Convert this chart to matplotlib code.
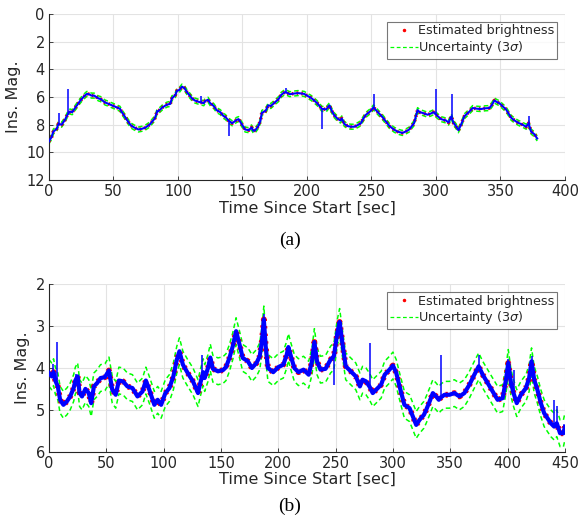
import numpy as np
import matplotlib
matplotlib.use("Agg")
import matplotlib.pyplot as plt
from matplotlib.lines import Line2D

plt.rcParams["font.family"] = ["DejaVu Sans"]
plt.rcParams["mathtext.fontset"] = "dejavusans"

# ---------------- panel (a): estimated brightness ----------------
t_a = [0, 2, 3.4, 6, 7.3, 9.8, 12.4, 14.2, 16.3, 18, 20.2, 24, 26.7, 29.3, 31, 33, 35, 38.3, 40,
       43.5, 45, 48.7, 52.6, 55, 56.5, 58, 60.4, 63, 64.2, 66, 69.4, 72, 74.6, 78, 79.8, 82, 83.7,
       86.3, 88, 91.5, 94, 95.3, 98, 99.2, 101, 103.1, 105, 107, 110.9, 113, 116.1, 118.1, 120, 121,
       123.3, 125, 127.7, 130, 132.9, 135, 136.8, 139.2, 142, 145.6, 147, 150, 152, 155, 157, 158.5,
       160, 162.3, 164, 165, 168, 170, 172, 175, 178, 180, 182.8, 184.5, 186.7, 190, 193, 196, 198,
       200, 203, 205, 208, 211.5, 214.9, 217.4, 219, 221, 223.5, 226, 227, 229, 231.5, 234, 236.7,
       239, 241.8, 243.5, 245.6, 247.5, 249.5, 251.6, 253, 256, 258.5, 261, 264, 267.4, 270.2, 274,
       276.5, 279.3, 283, 285.8, 287.5, 289.6, 293.5, 296, 298.2, 300.3, 304, 307.8, 309.8, 312,
       313.5, 315.5, 317.4, 319.5, 322, 326, 328.5, 332, 335, 338, 341.5, 343.5, 345.3, 347, 349.2,
       352, 354.4, 358.3, 361, 363.5, 367, 370, 371.8, 373.8, 376.4, 378.5]
mag_a = [9.2, 8.9, 8.5, 8.3, 7.95, 8.0, 7.65, 7.3, 7.05, 7.1, 6.8, 6.3, 6.0, 5.78, 5.8, 5.9, 5.9, 6.1, 6.15,
         6.4, 6.45, 6.6, 6.75, 6.85, 7.1, 7.3, 7.65, 8.0, 8.1, 8.2, 8.35, 8.3, 8.22, 8.0, 7.8, 7.55, 7.1,
         6.9, 6.75, 6.55, 6.5, 6.1, 5.85, 5.55, 5.5, 5.25, 5.35, 5.65, 6.1, 6.25, 6.35, 6.4, 6.45, 6.3,
         6.2, 6.45, 6.65, 6.95, 7.1, 7.35, 7.45, 7.7, 7.9, 7.65, 7.6, 8.05, 8.35, 8.4, 8.2, 8.45,
         8.4, 8.1, 7.7, 7.15, 7.0, 6.6, 6.65, 6.4, 6.15, 5.85, 5.65, 5.7, 5.8, 5.75, 5.72, 5.75, 5.78,
         5.9, 6.05, 6.2, 6.45, 6.85, 6.9, 6.6, 6.95, 7.3, 7.55, 7.7, 7.55, 7.95, 8.1, 8.15, 8.15,
         8.05, 7.9, 7.6, 7.3, 7.15, 7.0, 6.75, 6.9, 7.2, 7.45, 7.75, 8.1, 8.35, 8.5, 8.6,
         8.5, 8.35, 7.9, 6.95, 7.1, 7.15, 7.28, 7.2, 7.1, 7.3, 7.6, 7.7, 7.85, 7.4,
         7.85, 8.1, 8.4, 8.0, 7.4, 7.05, 6.8, 6.85, 6.87, 6.82, 6.8, 6.55, 6.25, 6.35, 6.45,
         6.7, 6.9, 7.5, 7.7, 7.85, 8.0, 8.15, 7.9, 8.5, 8.7, 9.0]
spike_t_a = [7.4, 14.4, 84.0, 118.2, 139.3, 183.6, 211.6, 251.7, 300.4, 312.1, 371.9]
spike_m_a = [7.15, 5.45, 6.95, 5.9, 8.8, 5.35, 8.3, 5.75, 5.4, 5.75, 7.4]
unc_a = 0.18

# ---------------- panel (b) ----------------
t_b = [0, 2.4, 4, 5.5, 7.7, 9.7, 12.6, 15.6, 18.5, 21.5, 23, 25, 26.7, 28.8, 31.8, 34.7, 36.8, 39.2,
       42, 45, 48.8, 52.3, 55.2, 58.2, 61, 64.6, 68.4, 72.8, 77.2, 81.6, 84.5, 87.5, 91.9, 94.8,
       97.8, 101.5, 105, 108.5, 111.5, 113.8, 116.8, 121, 125.6, 130, 132, 134.5, 135.8, 138.7,
       140.7, 143, 147.4, 151.8, 154.4, 157.4, 160.3, 163.2, 166.2, 169, 173.5, 177, 181, 183.8,
       185.9, 187.4, 189, 191, 195.6, 200, 204.4, 207.4, 208.8, 211, 214, 217.6, 222, 226.5,
       229.4, 231.5, 233.8, 236.8, 241.2, 245.6, 248.5, 251.5, 253.5, 255.9, 258.8, 261.8, 264.7,
       267.6, 271.2, 273.5, 276.5, 279.7, 282.4, 285.3, 289.7, 292.8, 297, 300, 302.9, 305.8,
       310, 314.5, 317.4, 320.3, 323.2, 327, 329, 332, 334.8, 337.7, 340, 342, 345, 349.3, 353.6,
       358, 362.3, 366.7, 371, 374.8, 378.3, 382.6, 387, 391.3, 395.7, 398.6, 400.6, 403, 405.2,
       408, 411.6, 416, 418.8, 420.9, 423.2, 426, 429, 431.9, 434.8, 437.7, 440.6, 442.9, 445.8,
       448.7, 450]
mag_b = [4.12, 4.2, 4.1, 4.3, 4.44, 4.76, 4.88, 4.8, 4.68, 4.48, 4.3, 4.2, 4.6, 4.68, 4.5, 4.6, 4.84, 4.44,
         4.36, 4.24, 4.22, 4.06, 4.52, 4.64, 4.3, 4.32, 4.44, 4.48, 4.68, 4.56, 4.3, 4.52, 4.88, 4.76,
         4.88, 4.6, 4.48, 4.2, 3.8, 3.6, 3.92, 4.12, 4.32, 4.6, 4.36, 4.1, 4.24, 4.0,
         3.75, 4.02, 4.08, 4.05, 3.98, 3.76, 3.48, 3.12, 3.44, 3.76, 3.84, 4.0, 3.88, 3.72,
         3.32, 2.84, 3.48, 4.0, 4.1, 3.98, 3.92, 3.68, 3.5, 3.72, 4.0, 4.1, 4.04, 4.16,
         3.84, 3.38, 3.84, 4.04, 4.02, 3.8, 3.72, 3.16, 2.9, 3.4, 3.96, 4.04, 4.12,
         4.2, 4.44, 4.28, 4.32, 4.45, 4.6, 4.52, 4.4, 4.16, 4.04, 3.94, 4.12, 4.44,
         4.88, 4.96, 5.16, 5.36, 5.24, 5.12, 5.0, 4.8, 4.6, 4.68, 4.76, 4.7, 4.64, 4.64, 4.6,
         4.68, 4.6, 4.4, 4.16, 3.96, 4.16, 4.36, 4.56, 4.76, 4.72, 4.28, 3.88, 4.36, 4.6,
         4.84, 4.64, 4.48, 4.24, 3.84, 4.28, 4.52, 4.84, 5.08, 5.2, 5.32, 5.4, 5.32, 5.56,
         5.56, 5.4]
spike_t_b = [3.5, 6.8, 23.5, 133.8, 187.6, 248.8, 279.8, 342.2, 374.9, 400.8, 405.5, 421.0, 440.8, 443.1]
spike_m_b = [3.9, 3.38, 4.15, 3.68, 2.72, 4.4, 3.4, 3.68, 3.68, 3.78, 4.04, 3.72, 4.76, 4.9]
unc_b = 0.32

TXT = "#262626"
GREEN = "#00ff00"
DASH = (0, (3, 2))


def panel(ax, t, m, st, sm, unc, blue_lw, red_lw, xmax, ylim, yticks):
    t = np.asarray(t, float); m = np.asarray(m, float)
    st = np.asarray(st, float); sm = np.asarray(sm, float)
    ax.plot(t, m - unc, color=GREEN, lw=1.1, ls=DASH, zorder=2)
    ax.plot(t, m + unc, color=GREEN, lw=1.1, ls=DASH, zorder=2)
    ax.plot(t, m, color="red", lw=red_lw, ls=(0, (0.4, 0.9)), zorder=3)
    ax.plot(t, m, color="blue", lw=blue_lw, zorder=4)
    # single-sample outliers in the measured signal
    ax.vlines(st, np.interp(st, t, m), sm, color="blue", lw=1.1, zorder=4)
    ax.set_xlim(0, xmax)
    ax.set_ylim(*ylim)
    ax.set_yticks(yticks)
    ax.set_xticks(np.arange(0, xmax + 1, 50))
    ax.grid(True, color="#e3e3e3", lw=0.8)
    ax.set_axisbelow(True)
    for s in ["top", "right"]:
        ax.spines[s].set_visible(False)
    for s in ["left", "bottom"]:
        ax.spines[s].set_color(TXT)
        ax.spines[s].set_linewidth(0.8)
    ax.tick_params(direction="in", length=3, width=0.6, colors=TXT, labelsize=10.5, pad=3)
    ax.set_xlabel("Time Since Start [sec]", fontsize=11.5, color=TXT, labelpad=1)
    ax.set_ylabel("Ins. Mag.", fontsize=11.5, color=TXT, labelpad=4)
    handles = [Line2D([], [], color="red", marker=".", ms=3, ls="none"),
               Line2D([], [], color=GREEN, lw=0.9, ls=DASH)]
    leg = ax.legend(handles, ["Estimated brightness", r"Uncertainty (3$\sigma$)"],
                    loc="upper right", fontsize=9.2, frameon=True, fancybox=False,
                    borderpad=0.2, handlelength=2.2, handletextpad=0.05, labelspacing=0.15,
                    borderaxespad=0.6)
    leg.get_frame().set_edgecolor("#555555")
    leg.get_frame().set_linewidth(0.8)
    for tx in leg.get_texts():
        tx.set_color(TXT)


fig = plt.figure(figsize=(5.81, 5.22), dpi=100)
ax1 = fig.add_axes([0.0843, 0.6552, 0.888, 0.318])
ax2 = fig.add_axes([0.0843, 0.1347, 0.888, 0.3207])

panel(ax1, t_a, mag_a, spike_t_a, spike_m_a, unc_a, 1.5, 2.6, 400, (12, 0), np.arange(0, 13, 2))
panel(ax2, t_b, mag_b, spike_t_b, spike_m_b, unc_b, 3.0, 4.2, 450, (6, 2), np.arange(2, 7, 1))

fig.text(0.499, 1 - 240 / 522, "(a)", ha="center", va="center", fontsize=14,
         family="Liberation Serif", color="black")
fig.text(0.499, 1 - 506 / 522, "(b)", ha="center", va="center", fontsize=14,
         family="Liberation Serif", color="black")

fig.savefig("out.png", dpi=100)
